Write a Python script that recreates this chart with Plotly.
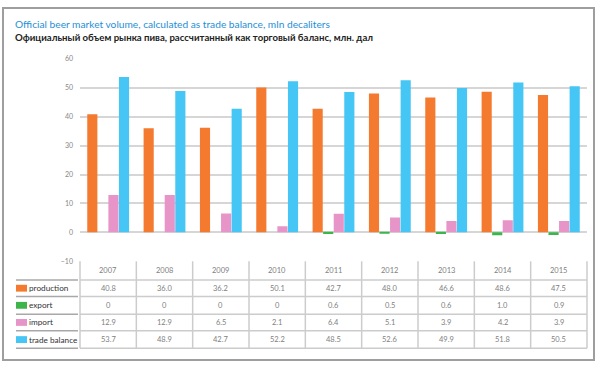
import plotly.graph_objects as go

years = ["2007", "2008", "2009", "2010", "2011", "2012", "2013", "2014", "2015"]
production = [40.8, 36.0, 36.2, 50.1, 42.7, 48.0, 46.6, 48.6, 47.5]
export = [0, 0, 0, 0, 0.6, 0.5, 0.6, 1.0, 0.9]
imports = [12.9, 12.9, 6.5, 2.1, 6.4, 5.1, 3.9, 4.2, 3.9]
trade_balance = [53.7, 48.9, 42.7, 52.2, 48.5, 52.6, 49.9, 51.8, 50.5]
y_ticks = [-10, 0, 10, 20, 30, 40, 50, 60]
series_names = ["production", "export", "import", "trade balance"]
title_en = "Official beer market volume, calculated as trade balance, mln decaliters"
title_ru = "Официальный объем рынка пива, рассчитанный как торговый баланс, млн. дал"

colors = ["#f47a30", "#3db54b", "#e795c8", "#45c6f4"]
W, H = 600, 368
X0, X1 = 80, 587          # plot area in px
YTOP, YBOT = 55, 262      # px from top

def px(x):
    return x / W

def py(y):
    return 1 - y / H

fig = go.Figure()
plot_values = [production, [-v for v in export], imports, trade_balance]
for name, vals, c in zip(series_names, plot_values, colors):
    fig.add_trace(go.Bar(x=years, y=vals, name=name, marker_color=c,
                         marker_line_width=0, showlegend=False, hoverinfo="skip"))

shapes = []
annotations = []

def label(text, x, y, size, color, xanchor="center", bold=False):
    annotations.append(dict(text=("<b>%s</b>" % text) if bold else text,
                            xref="paper", yref="paper", x=px(x), y=py(y),
                            xanchor=xanchor, yanchor="middle", showarrow=False,
                            font=dict(family="Lato", size=size, color=color)))

# outer frame
shapes.append(dict(type="rect", xref="paper", yref="paper", x0=px(3), x1=px(594),
                   y0=py(363), y1=py(3), layer="above",
                   line=dict(color="#9e9e9e", width=2)))

# titles
label(title_en, 13, 19, 10.2, "#1f8fd6", xanchor="left")
label(title_ru, 13, 33, 9.6, "#222222", xanchor="left", bold=True)

# table
row_lines = [281, 298, 316, 333, 351]
grid_col = "#cccccc"
ncat = len(years)
cw = (X1 - X0) / ncat
for yl in row_lines:
    shapes.append(dict(type="line", xref="paper", yref="paper", x0=px(X0), x1=px(X1),
                       y0=py(yl), y1=py(yl), line=dict(color=grid_col, width=1.5)))
    shapes.append(dict(type="line", xref="paper", yref="paper", x0=px(16), x1=px(78),
                       y0=py(yl), y1=py(yl), line=dict(color="#a8a8a8", width=1.5)))
for i in range(ncat + 1):
    xx = X0 + i * cw
    shapes.append(dict(type="line", xref="paper", yref="paper", x0=px(xx), x1=px(xx),
                       y0=py(YBOT), y1=py(351), line=dict(color=grid_col, width=1.5)))

row_tops = [262] + row_lines
def cy(r):
    return (row_tops[r] + row_tops[r + 1]) / 2

for i, yr in enumerate(years):
    label(yr, X0 + (i + 0.5) * cw, cy(0), 7.5, "#808080")
table_rows = [production, export, imports, trade_balance]
for r, vals in enumerate(table_rows):
    for i, v in enumerate(vals):
        txt = "0" if v == 0 else f"{v:.1f}"
        label(txt, X0 + (i + 0.5) * cw, cy(r + 1), 7.5, "#808080")
    ymid = cy(r + 1)
    shapes.append(dict(type="rect", xref="paper", yref="paper", x0=px(16), x1=px(27),
                       y0=py(ymid + 3.5), y1=py(ymid - 3.5), fillcolor=colors[r], line=dict(width=0)))
    label(series_names[r], 27, ymid, 8.2, "#333333", xanchor="left")

fig.update_layout(
    width=W, height=H, margin=dict(l=0, r=0, t=0, b=0),
    paper_bgcolor="white", plot_bgcolor="white",
    barmode="group", bargap=0.25, bargroupgap=0.04,
    shapes=shapes, annotations=annotations,
    xaxis=dict(domain=[px(X0), px(X1)], showticklabels=False, showgrid=False,
               zeroline=False, showline=False, ticks=""),
    yaxis=dict(domain=[py(YBOT), py(YTOP)], range=[-10, 60], tickvals=y_ticks,
               showgrid=True, gridcolor="#d6d6d6", gridwidth=1.5, zeroline=False,
               tickfont=dict(family="Lato", size=7, color="#888888"), ticks="",
               ticklabelstandoff=6),
)

fig.write_html("out.html", config={"displayModeBar": False},
               post_script="document.body.style.margin='0';document.body.style.overflow='hidden';")
